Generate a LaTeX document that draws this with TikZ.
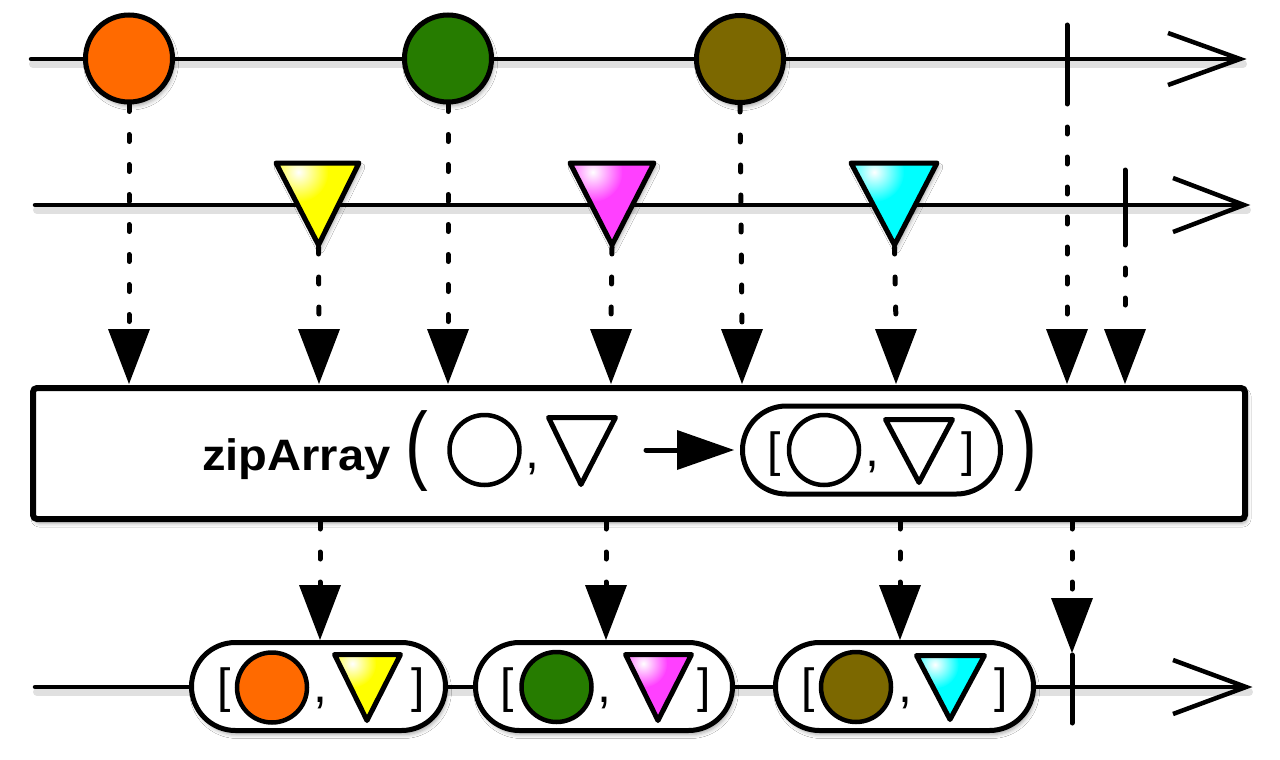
\documentclass[tikz,border=0pt]{standalone}
\usepackage{fontspec}
\setmainfont{Liberation Sans}
\usetikzlibrary{shadows.blur}
\definecolor{cOrange}{RGB}{255,106,0}
\definecolor{cGreen}{RGB}{38,124,0}
\definecolor{cOlive}{RGB}{124,104,0}
\definecolor{cY}{RGB}{255,255,0}
\definecolor{cYD}{RGB}{165,165,0}
\definecolor{cP}{RGB}{255,64,255}
\definecolor{cPD}{RGB}{170,40,170}
\definecolor{cC}{RGB}{0,255,255}
\definecolor{cCD}{RGB}{0,160,160}
\pgfdeclareverticalshading{YBody}{100bp}{color(0bp)=(cYD); color(30bp)=(cY); color(100bp)=(cY)}
\pgfdeclareverticalshading{PBody}{100bp}{color(0bp)=(cPD); color(30bp)=(cP); color(100bp)=(cP)}
\pgfdeclareverticalshading{CBody}{100bp}{color(0bp)=(cCD); color(30bp)=(cC); color(100bp)=(cC)}
% shaded triangle: left x, right x, top y, apex x, apex y, colour letter, highlight radius
\newcommand\gtri[7]{%
  \begin{scope}
    \clip (#1,#3) -- (#2,#3) -- (#4,#5) -- cycle;
    \shade[shading=#6Body] (#1,#3) rectangle (#2,#5);
    \shade[inner color=white,outer color=c#6] ({#1+0.27*(#2-#1)},{#3+9}) circle (#7);
  \end{scope}
  \draw[triline] (#1,#3) -- (#2,#3) -- (#4,#5) -- cycle;
}
\newcommand\trishadow[5]{%
  \path[shd] (#1,#3) -- (#2,#3) -- (#4,#5) -- cycle;
}
\newcommand\dnhead[2]{\fill ({#1-21},{#2-55}) -- ({#1+21},{#2-55}) -- (#1,#2) -- cycle;}
\begin{document}
\begin{tikzpicture}[x=1pt,y=-1pt,
  shd/.style={blur shadow={shadow xshift=2pt,shadow yshift=-4pt,shadow blur radius=4pt,shadow opacity=35}},
  tl/.style={line width=4.5pt,line cap=round},
  tlshadow/.style={line width=8pt,black,opacity=0.12,line cap=round},
  chev/.style={line width=4.5pt,line cap=butt,line join=miter},
  tickline/.style={line width=5pt,line cap=round},
  dots/.style={line width=5pt,line cap=round,dash pattern=on 7pt off 23pt},
  triline/.style={line width=5pt,line join=round},
  ball/.style={circle,draw,line width=5pt,minimum size=87pt,inner sep=0pt,shd},
  ballsm/.style={circle,draw,line width=4.5pt,minimum size=70pt,inner sep=0pt},
  ring/.style={circle,draw,line width=4.5pt,minimum size=70pt,inner sep=0pt,fill=white},
  pill/.style={draw,line width=5pt,fill=white,rounded corners=44pt,minimum height=88pt,inner sep=0pt},
  brk/.style={inner sep=0pt,font=\fontsize{48}{50}\selectfont},
  cma/.style={inner sep=0pt,anchor=base,font=\fontsize{50}{50}\selectfont},
  paren/.style={inner sep=0pt,font=\fontsize{62}{64}\selectfont},
  lbl/.style={inner sep=0pt,anchor=base west,font=\bfseries\fontsize{44}{50}\selectfont}
]
\useasboundingbox (0,0) rectangle (1280,760);
\fill[white] (0,0) rectangle (1280,760);

% ---- timeline shadows
\draw[tlshadow] (33,64) -- (1243,64);
\draw[tlshadow] (37,210) -- (1247,210);
\draw[tlshadow] (37,692) -- (1249,692);

% ---- timeline 1
\coordinate (A1) at (31,59);
\coordinate (A1e) at (1240,59);
\draw[tl] (A1) -- (A1e);
\draw[chev] (1168,33) -- (A1e) -- (1168,85);
\coordinate (K1a) at (1067,25);
\coordinate (K1b) at (1067,97);
\draw[tickline] (K1a) -- (K1b);

% ---- timeline 2
\coordinate (A2) at (35,205);
\coordinate (A2e) at (1244,205);
\draw[tl] (A2) -- (A2e);
\draw[chev] (1173,178) -- (A2e) -- (1173,232);
\coordinate (K2a) at (1125,170);
\coordinate (K2b) at (1125,238);
\draw[tickline] (K2a) -- (K2b);

% ---- top circles
\node[ball,fill=cOrange] (o1) at (129,58.5) {};
\node[ball,fill=cGreen] (o2) at (448,58.5) {};
\node[ball,fill=cOlive] (o3) at (740,59) {};

% ---- triangles on line 2
\trishadow{276}{359}{163}{318.5}{245}
\trishadow{570}{654}{163}{612}{245}
\trishadow{851}{937}{163}{894.5}{245}
\gtri{276}{359}{163}{318.5}{245}{Y}{30}
\gtri{570}{654}{163}{612}{245}{P}{30}
\gtri{851}{937}{163}{894.5}{245}{C}{30}
\coordinate (ty) at (318.5,245);
\coordinate (tp) at (612,245);
\coordinate (tc) at (894.5,245);

% ---- operator box
\node[draw,line width=6pt,rounded corners=4pt,fill=white,minimum width=1212pt,minimum height=131pt,inner sep=0pt,shd] (box) at (639,453.5) {};

% ---- dotted connectors into the box
\coordinate (h1) at (129,325);
\coordinate (h2) at (319,325);
\coordinate (h3) at (448,325);
\coordinate (h4) at (611,325);
\coordinate (h5) at (742,325);
\coordinate (h6) at (896,325);
\coordinate (h7) at (1067,325);
\coordinate (h8) at (1125,325);
\draw[dots] (o1.south) -- (h1);
\draw[dots] (ty) ++(0,2) -- (h2);
\draw[dots] (o2.south) -- (h3);
\draw[dots] (tp) ++(0,2) -- (h4);
\draw[dots] (o3.south) -- (h5);
\draw[dots] (tc) ++(0,2) -- (h6);
\draw[dots] (K1b) -- (h7);
\draw[dots] (K2b) -- (h8);
\dnhead{129}{384}
\dnhead{319}{384}
\dnhead{448}{384}
\dnhead{611}{384}
\dnhead{742}{384}
\dnhead{896}{384}
\dnhead{1067}{384}
\dnhead{1125}{384}

% ---- box contents
\node[lbl] (name) at (202,470) {\scalebox{1.07}[1]{zipArray}};
\node[paren] (lp) at (417,451) {\scalebox{1.1}[1.4]{(}};
\node[ring] (bc) at (484.5,450) {};
\node[cma] (bcm) at (532,468) {,};
\draw[triline] (548.5,417.5) -- (615.5,417.5) -- (581,484.5) -- cycle;
\coordinate (ar0) at (646,450);
\coordinate (ar1) at (680,450);
\draw[line width=5pt,line cap=round] (ar0) -- (ar1);
\fill (677,430) -- (734,450) -- (677,470) -- cycle;
\node[pill,minimum width=258pt] (bp) at (871.5,450) {};
\node[brk] (bl) at (774,454.5) {[};
\node[ring] (bc2) at (824,450) {};
\node[cma] (bcm2) at (872,466) {,};
\draw[triline] (885.5,419.5) -- (952.5,419.5) -- (919,482.5) -- cycle;
\node[brk] (br) at (968,454.5) {]};
\node[paren] (rp) at (1026,451) {\scalebox{1.1}[1.4]{)}};

% ---- result timeline
\coordinate (A3) at (35,687);
\coordinate (A3e) at (1246,687);
\draw[tl] (A3) -- (A3e);
\draw[chev] (1173,660) -- (A3e) -- (1173,714);
\coordinate (K3a) at (1072,655);
\coordinate (K3b) at (1072,723);
\draw[tickline] (K3a) -- (K3b);

% ---- result pills
\node[pill,shd,minimum width=254pt] (p1) at (318.5,686.5) {};
\node[pill,shd,minimum width=257pt] (p2) at (604,686.5) {};
\node[pill,shd,minimum width=258pt] (p3) at (904.5,686.5) {};

\node[brk] (p1l) at (224,690.5) {[};
\node[ballsm,fill=cOrange] (q1) at (272,687.5) {};
\node[cma] (p1c) at (320,702) {,};
\gtri{334.5}{400.5}{654.5}{367}{720.5}{Y}{24}
\node[brk] (p1r) at (418,690.5) {]};

\node[brk] (p2l) at (507,690.5) {[};
\node[ballsm,fill=cGreen] (q2) at (556.5,687) {};
\node[cma] (p2c) at (604,702) {,};
\gtri{625.5}{691.5}{654.5}{658}{720.5}{P}{24}
\node[brk] (p2r) at (704,690.5) {]};

\node[brk] (p3l) at (808,690.5) {[};
\node[ballsm,fill=cOlive] (q3) at (856,687) {};
\node[cma] (p3c) at (905,702) {,};
\gtri{916.5}{984.5}{655.5}{950}{719.5}{C}{24}
\node[brk] (p3r) at (1001,690.5) {]};

% ---- dotted connectors out of the box
\coordinate (g1) at (320,585);
\coordinate (g2) at (606,585);
\coordinate (g3) at (900,585);
\coordinate (g4) at (1072,597);
\draw[dots] (box.south -| g1) -- (g1);
\draw[dots] (box.south -| g2) -- (g2);
\draw[dots] (box.south -| g3) -- (g3);
\draw[dots] (box.south -| g4) -- (g4);
\dnhead{320}{640}
\dnhead{606}{640}
\dnhead{900}{640}
\dnhead{1072}{653}
\end{tikzpicture}
\end{document}
